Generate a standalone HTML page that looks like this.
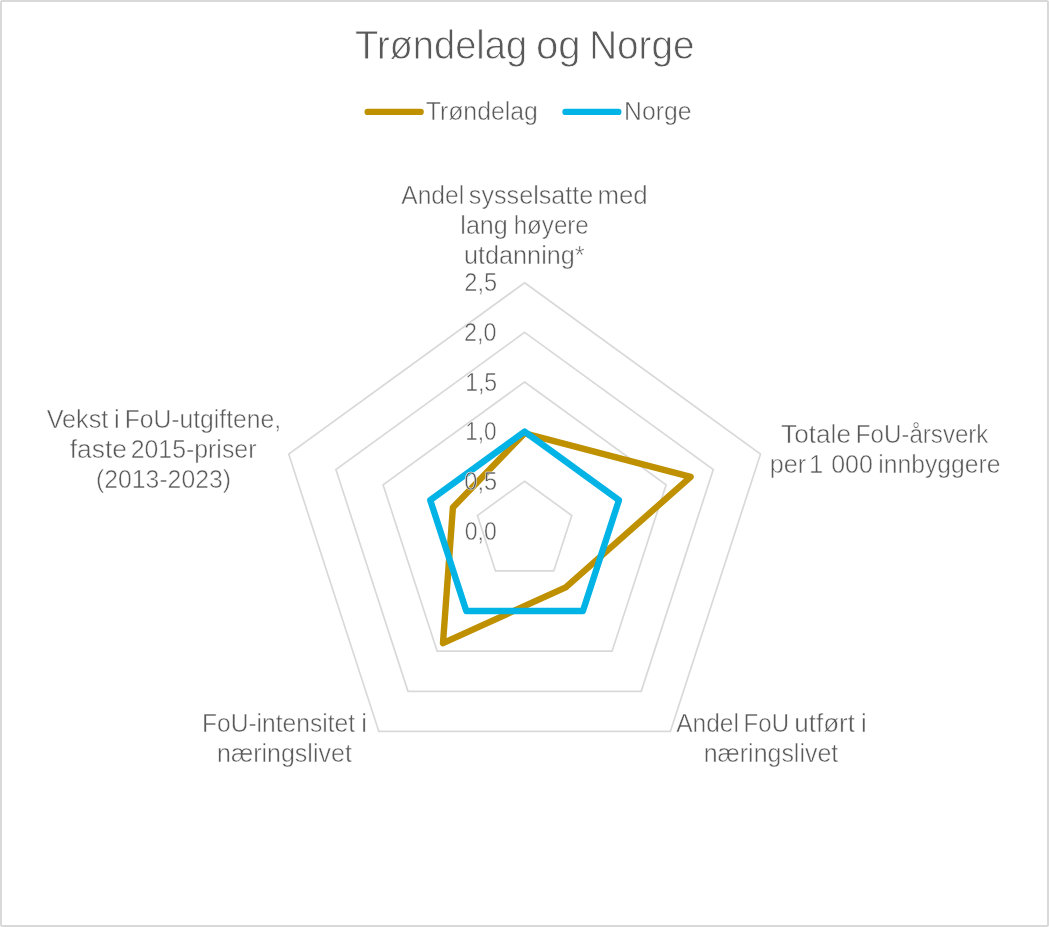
<!DOCTYPE html>
<html lang="no">
<head>
<meta charset="utf-8">
<title>Trøndelag og Norge</title>
<style>
html,body{margin:0;padding:0;background:#fff;}
body{width:1049px;height:927px;overflow:hidden;}
.chart{position:relative;width:1049px;height:927px;box-sizing:border-box;border:2px solid #d9d9d9;border-radius:2px;background:#fff;}
svg{position:absolute;left:-2px;top:-2px;display:block;}
text{font-family:"Liberation Sans",Arial,sans-serif;fill:#595959;stroke:#fff;}
.t{font-size:40.8px;stroke-width:0.8px;}
.l{font-size:25.7px;stroke-width:0.5px;}
</style>
</head>
<body>
<div class="chart">
<svg width="1049" height="927" viewBox="0 0 1049 927">
<g fill="none" stroke="#d9d9d9" stroke-width="1.7" stroke-linejoin="miter">
<polygon points="524.60,481.20 571.77,515.47 553.75,570.93 495.45,570.93 477.43,515.47"/>
<polygon points="524.60,431.60 618.94,500.15 582.91,611.05 466.29,611.05 430.26,500.15"/>
<polygon points="524.60,382.00 666.12,484.82 612.06,651.18 437.14,651.18 383.08,484.82"/>
<polygon points="524.60,332.40 713.29,469.49 641.22,691.31 407.98,691.31 335.91,469.49"/>
<polygon points="524.60,282.80 760.46,454.16 670.37,731.44 378.83,731.44 288.74,454.16"/>
</g>
<polygon points="524.60,433.29 690.65,476.85 565.71,587.38 442.97,643.16 452.90,507.50" fill="none" stroke="#bf9000" stroke-width="6.4" stroke-linejoin="round"/>
<polygon points="524.60,431.60 618.94,500.15 582.91,611.05 466.29,611.05 430.26,500.15" fill="none" stroke="#02b3e6" stroke-width="6.4" stroke-linejoin="round"/>
<line x1="367.6" y1="111.95" x2="420.7" y2="111.95" stroke="#bf9000" stroke-width="6.2" stroke-linecap="round"/>
<line x1="565.4" y1="111.95" x2="618.4" y2="111.95" stroke="#02b3e6" stroke-width="6.2" stroke-linecap="round"/>
<text class="t" y="58.60"><tspan x="355.12" textLength="172.01" lengthAdjust="spacingAndGlyphs">Trøndelag</tspan> <tspan x="535.94" textLength="44.60" lengthAdjust="spacingAndGlyphs">og</tspan> <tspan x="589.20" textLength="105.22" lengthAdjust="spacingAndGlyphs">Norge</tspan></text>
<text class="l" y="119.65"><tspan x="425.68" textLength="112.20" lengthAdjust="spacingAndGlyphs">Trøndelag</tspan></text>
<text class="l" y="119.65"><tspan x="624.04" textLength="67.39" lengthAdjust="spacingAndGlyphs">Norge</tspan></text>
<text class="l" y="203.85"><tspan x="401.28" textLength="62.91" lengthAdjust="spacingAndGlyphs">Andel</tspan> <tspan x="468.83" textLength="124.48" lengthAdjust="spacingAndGlyphs">sysselsatte</tspan> <tspan x="597.42" textLength="50.33" lengthAdjust="spacingAndGlyphs">med</tspan></text>
<text class="l" y="233.95"><tspan x="460.32" textLength="47.53" lengthAdjust="spacingAndGlyphs">lang</tspan> <tspan x="513.71" textLength="75.08" lengthAdjust="spacingAndGlyphs">høyere</tspan></text>
<text class="l" y="263.95"><tspan x="463.91" textLength="120.74" lengthAdjust="spacingAndGlyphs">utdanning*</tspan></text>
<text class="l" y="443.45"><tspan x="781.14" textLength="69.84" lengthAdjust="spacingAndGlyphs">Totale</tspan> <tspan x="855.84" textLength="132.60" lengthAdjust="spacingAndGlyphs">FoU-årsverk</tspan></text>
<text class="l" y="473.35"><tspan x="769.73" textLength="36.44" lengthAdjust="spacingAndGlyphs">per</tspan> <tspan x="808.97">1</tspan> <tspan x="831.20" textLength="41.70" lengthAdjust="spacingAndGlyphs">000</tspan> <tspan x="878.34" textLength="122.03" lengthAdjust="spacingAndGlyphs">innbyggere</tspan></text>
<text class="l" y="732.05"><tspan x="676.28" textLength="62.65" lengthAdjust="spacingAndGlyphs">Andel</tspan> <tspan x="743.61" textLength="45.37" lengthAdjust="spacingAndGlyphs">FoU</tspan> <tspan x="794.17" textLength="60.89" lengthAdjust="spacingAndGlyphs">utført</tspan> <tspan x="860.89">i</tspan></text>
<text class="l" y="762.25"><tspan x="703.75" textLength="134.46" lengthAdjust="spacingAndGlyphs">næringslivet</tspan></text>
<text class="l" y="732.05"><tspan x="201.91" textLength="153.25" lengthAdjust="spacingAndGlyphs">FoU-intensitet</tspan> <tspan x="361.25">i</tspan></text>
<text class="l" y="762.25"><tspan x="216.99" textLength="134.84" lengthAdjust="spacingAndGlyphs">næringslivet</tspan></text>
<text class="l" y="428.45"><tspan x="46.63" textLength="61.70" lengthAdjust="spacingAndGlyphs">Vekst</tspan> <tspan x="113.95">i</tspan> <tspan x="124.63" textLength="156.45" lengthAdjust="spacingAndGlyphs">FoU-utgiftene,</tspan></text>
<text class="l" y="458.35"><tspan x="69.71" textLength="57.28" lengthAdjust="spacingAndGlyphs">faste</tspan> <tspan x="130.71" textLength="125.71" lengthAdjust="spacingAndGlyphs">2015-priser</tspan></text>
<text class="l" y="488.35"><tspan x="96.10" textLength="134.81" lengthAdjust="spacingAndGlyphs">(2013-2023)</tspan></text>
<text class="l" y="291.25"><tspan x="464.36" textLength="32.82" lengthAdjust="spacingAndGlyphs">2,5</tspan></text>
<text class="l" y="340.90"><tspan x="464.12" textLength="32.44" lengthAdjust="spacingAndGlyphs">2,0</tspan></text>
<text class="l" y="390.55"><tspan x="465.13" textLength="32.07" lengthAdjust="spacingAndGlyphs">1,5</tspan></text>
<text class="l" y="440.20"><tspan x="465.15" textLength="31.46" lengthAdjust="spacingAndGlyphs">1,0</tspan></text>
<text class="l" y="489.85"><tspan x="464.36" textLength="32.81" lengthAdjust="spacingAndGlyphs">0,5</tspan></text>
<text class="l" y="539.50"><tspan x="464.76" textLength="31.98" lengthAdjust="spacingAndGlyphs">0,0</tspan></text>
</svg>
</div>
</body>
</html>
